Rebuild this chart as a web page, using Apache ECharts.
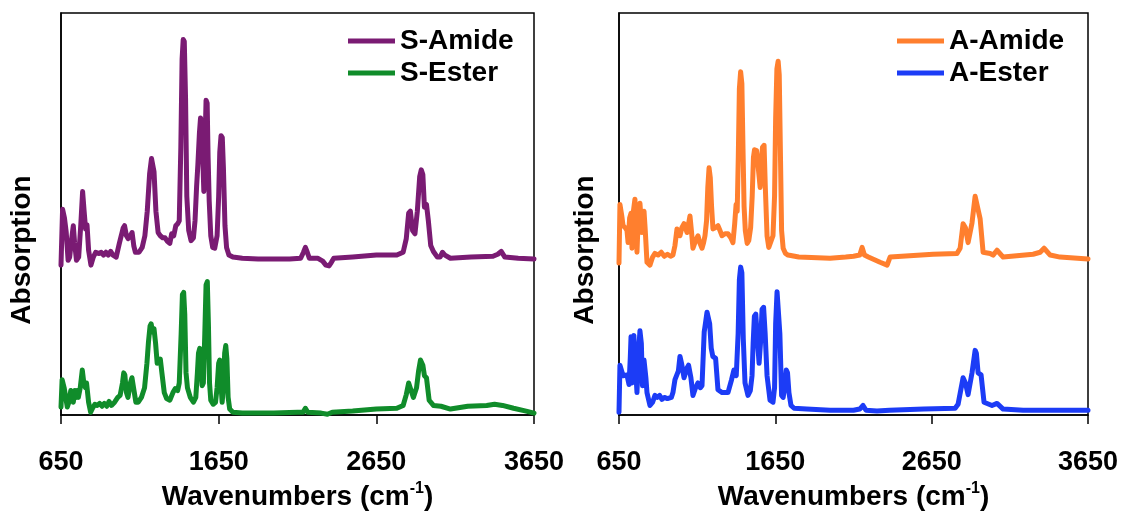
<!DOCTYPE html>
<html><head><meta charset="utf-8">
<script src="https://cdn.jsdelivr.net/npm/echarts@6/dist/echarts.min.js"></script>
<style>html,body{margin:0;padding:0;background:#fff}#c{width:1122px;height:516px}</style>
</head><body><div id="c"></div><script>
const xTicks = [650, 1650, 2650, 3650];
const seriesNames = ['S-Amide', 'S-Ester', 'A-Amide', 'A-Ester'];

const sAmide = [[650,.373],[660,.512],[672,.49],[683,.455],[695,.385],[705,.393],[718,.44],[728,.471],[736,.43],[748,.385],[762,.393],[775,.47],[787,.556],[796,.51],[806,.463],[815,.473],[825,.41],[840,.373],[855,.393],[870,.405],[890,.402],[905,.405],[920,.398],[935,.405],[950,.398],[965,.407],[980,.398],[1000,.393],[1020,.427],[1032,.429],[1045,.466],[1053,.471],[1065,.446],[1076,.439],[1090,.446],[1101,.454],[1112,.42],[1122,.405],[1145,.405],[1165,.417],[1182,.446],[1197,.507],[1212,.6],[1224,.638],[1232,.641],[1240,.605],[1252,.507],[1266,.454],[1280,.446],[1295,.441],[1310,.441],[1325,.432],[1340,.427],[1352,.451],[1365,.446],[1378,.471],[1390,.476],[1400,.483],[1410,.666],[1418,.885],[1425,.934],[1432,.929],[1440,.788],[1448,.544],[1460,.459],[1475,.434],[1490,.441],[1500,.483],[1510,.568],[1518,.622],[1528,.702],[1535,.739],[1543,.727],[1550,.629],[1556,.556],[1563,.666],[1570,.783],[1577,.776],[1583,.641],[1590,.532],[1600,.446],[1612,.417],[1625,.415],[1640,.446],[1650,.544],[1657,.654],[1665,.695],[1673,.69],[1680,.617],[1690,.471],[1700,.417],[1715,.398],[1740,.393],[1800,.39],[1900,.388],[2000,.388],[2100,.388],[2170,.39],[2188,.405],[2200,.417],[2212,.405],[2225,.39],[2280,.39],[2310,.383],[2330,.373],[2350,.371],[2365,.38],[2380,.39],[2500,.393],[2650,.398],[2780,.398],[2820,.405],[2840,.439],[2855,.502],[2866,.507],[2880,.459],[2895,.451],[2910,.507],[2925,.593],[2935,.61],[2945,.598],[2955,.517],[2968,.524],[2980,.483],[2995,.422],[3012,.407],[3037,.393],[3055,.393],[3069,.405],[3085,.398],[3120,.39],[3250,.393],[3390,.395],[3420,.4],[3442,.407],[3465,.393],[3550,.39],[3650,.388]];

const sEster = [[650,.02],[657,.088],[670,.068],[690,.02],[700,.032],[712,.061],[722,.056],[728,.032],[738,.061],[745,.044],[752,.061],[760,.044],[772,.068],[785,.112],[795,.08],[805,.068],[812,.08],[825,.032],[838,.007],[850,.017],[865,.027],[880,.024],[895,.029],[910,.022],[925,.029],[940,.022],[955,.034],[970,.024],[990,.032],[1010,.044],[1025,.049],[1040,.08],[1048,.105],[1055,.1],[1065,.056],[1075,.044],[1090,.08],[1100,.093],[1110,.068],[1125,.032],[1140,.032],[1160,.044],[1180,.068],[1195,.129],[1205,.183],[1215,.222],[1222,.227],[1230,.207],[1240,.215],[1250,.178],[1260,.129],[1272,.134],[1280,.139],[1290,.105],[1305,.056],[1320,.041],[1340,.037],[1360,.056],[1375,.066],[1390,.061],[1400,.08],[1412,.202],[1420,.3],[1428,.305],[1435,.251],[1443,.105],[1452,.068],[1470,.044],[1490,.032],[1505,.044],[1515,.105],[1522,.154],[1530,.166],[1538,.129],[1545,.073],[1553,.08],[1562,.202],[1570,.324],[1578,.332],[1585,.227],[1592,.08],[1600,.037],[1615,.027],[1630,.032],[1640,.068],[1650,.129],[1657,.137],[1664,.08],[1672,.032],[1680,.068],[1688,.154],[1695,.173],[1702,.141],[1710,.044],[1720,.015],[1740,.007],[1800,.005],[2000,.005],[2150,.007],[2185,.007],[2200,.017],[2215,.007],[2300,.005],[2340,.002],[2370,.007],[2500,.01],[2650,.015],[2780,.017],[2820,.024],[2840,.051],[2855,.08],[2866,.078],[2885,.044],[2905,.068],[2918,.11],[2930,.137],[2945,.124],[2955,.098],[2968,.093],[2985,.037],[3012,.024],[3060,.022],[3120,.015],[3230,.022],[3350,.024],[3400,.027],[3450,.024],[3520,.017],[3600,.01],[3650,.005]];

const aAmide = [[650,.378],[656,.524],[668,.495],[676,.471],[690,.466],[701,.459],[708,.429],[718,.49],[727,.502],[733,.415],[742,.507],[752,.537],[760,.471],[765,.405],[775,.507],[784,.527],[797,.454],[803,.49],[810,.507],[818,.459],[829,.38],[848,.373],[865,.393],[880,.402],[900,.398],[920,.405],[940,.395],[960,.4],[980,.395],[995,.398],[1008,.422],[1021,.463],[1030,.454],[1040,.446],[1052,.466],[1066,.476],[1075,.466],[1085,.454],[1095,.476],[1104,.495],[1113,.459],[1123,.415],[1140,.434],[1155,.446],[1168,.427],[1181,.415],[1190,.427],[1200,.446],[1210,.483],[1218,.566],[1226,.615],[1234,.59],[1242,.52],[1251,.463],[1265,.466],[1283,.471],[1296,.459],[1309,.446],[1328,.451],[1347,.451],[1365,.441],[1379,.429],[1390,.476],[1399,.524],[1406,.507],[1413,.641],[1420,.812],[1428,.854],[1436,.824],[1443,.666],[1450,.52],[1458,.459],[1470,.427],[1480,.434],[1492,.466],[1502,.544],[1510,.641],[1517,.66],[1530,.658],[1540,.654],[1547,.59],[1553,.566],[1560,.629],[1568,.666],[1578,.671],[1586,.566],[1597,.446],[1608,.417],[1620,.415],[1635,.446],[1645,.544],[1652,.739],[1660,.861],[1668,.88],[1675,.846],[1682,.666],[1690,.459],[1700,.415],[1715,.402],[1731,.398],[1800,.393],[2000,.39],[2100,.393],[2150,.395],[2190,.398],[2205,.417],[2220,.398],[2245,.393],[2320,.38],[2365,.373],[2384,.393],[2659,.4],[2812,.402],[2832,.415],[2851,.476],[2866,.466],[2883,.429],[2908,.478],[2928,.544],[2938,.527],[2960,.488],[2979,.405],[3024,.402],[3043,.398],[3068,.41],[3107,.393],[3299,.4],[3344,.405],[3369,.415],[3408,.398],[3471,.393],[3650,.388]];

const aEster = [[650,.007],[656,.124],[676,.098],[701,.1],[714,.076],[722,.141],[727,.195],[733,.08],[745,.198],[752,.198],[765,.056],[775,.154],[784,.21],[793,.178],[800,.073],[810,.137],[822,.093],[829,.056],[848,.024],[865,.032],[880,.049],[895,.044],[910,.049],[925,.039],[940,.044],[960,.041],[985,.044],[995,.056],[1008,.088],[1030,.11],[1040,.146],[1050,.129],[1066,.093],[1085,.117],[1095,.124],[1110,.093],[1123,.049],[1140,.068],[1155,.08],[1170,.068],[1181,.073],[1195,.207],[1200,.22],[1213,.256],[1222,.259],[1230,.227],[1240,.166],[1250,.146],[1268,.141],[1283,.063],[1310,.056],[1347,.056],[1370,.088],[1385,.112],[1400,.098],[1412,.202],[1420,.337],[1428,.368],[1436,.354],[1445,.19],[1456,.08],[1475,.049],[1490,.061],[1501,.098],[1508,.178],[1516,.246],[1525,.251],[1535,.19],[1546,.129],[1557,.19],[1565,.263],[1575,.268],[1585,.202],[1597,.098],[1616,.037],[1635,.032],[1645,.068],[1652,.227],[1661,.307],[1670,.307],[1679,.202],[1690,.049],[1700,.044],[1712,.076],[1720,.112],[1728,.105],[1737,.056],[1750,.024],[1770,.017],[1850,.015],[2000,.012],[2150,.012],[2190,.015],[2211,.024],[2230,.012],[2300,.01],[2380,.012],[2600,.015],[2800,.017],[2819,.027],[2851,.093],[2866,.08],[2883,.051],[2908,.105],[2928,.161],[2936,.154],[2947,.105],[2966,.1],[2985,.032],[3036,.024],[3068,.029],[3107,.015],[3235,.012],[3650,.012]];

const colors = ['#7A1B73', '#108C2A', '#FF7F2E', '#1C3CF6'];
const FONT = '"Liberation Sans", Arial, Helvetica, sans-serif';

function xAx(gi) {
  return {
    gridIndex: gi, type: 'value',
    min: xTicks[0], max: xTicks[xTicks.length - 1], interval: xTicks[1] - xTicks[0],
    axisLine: { show: true, onZero: false, lineStyle: { color: '#000', width: 1.5 } },
    axisTick: { show: true, inside: false, length: 9, lineStyle: { color: '#000', width: 1.5 } },
    axisLabel: { margin: 34, color: '#000', fontSize: 27, fontWeight: 'bold', fontFamily: FONT, showMinLabel: true, showMaxLabel: true,
      formatter: (v) => String(v) },
    splitLine: { show: false },
    name: '{a|Wavenumbers (cm}{s|-1}{a|)}', nameLocation: 'middle', nameGap: 61,
    nameTextStyle: { rich: {
      a: { fontSize: 28, fontWeight: 'bold', fontFamily: FONT, color: '#000', lineHeight: 32 },
      s: { fontSize: 16, fontWeight: 'bold', fontFamily: FONT, color: '#000', lineHeight: 16, verticalAlign: 'top' }
    } }
  };
}
function yAx(gi) {
  return { gridIndex: gi, type: 'value', min: 0, max: 1,
    axisLine: { show: true, lineStyle: { color: '#000', width: 1.5 } },
    axisTick: { show: false }, axisLabel: { show: false }, splitLine: { show: false } };
}
function ser(name, data, gi, color) {
  return { name, type: 'line', xAxisIndex: gi, yAxisIndex: gi, data, showSymbol: false, symbol: 'none',
    lineStyle: { color, width: 5, join: 'round', cap: 'round' }, itemStyle: { color }, animation: false, clip: true };
}
function legend(left, names) {
  return { left, top: 22, orient: 'vertical', data: names, icon: 'rect', itemWidth: 47, itemHeight: 5, itemGap: 4,
    textStyle: { fontSize: 28, fontWeight: 'bold', fontFamily: FONT, color: '#000', lineHeight: 28 }, selectedMode: false };
}
const absText = (x) => ({ type: 'text', x, y: 250, rotation: Math.PI / 2,
  style: { text: 'Absorption', fill: '#000', font: 'bold 28px ' + FONT, align: 'center', verticalAlign: 'middle', textAlign: 'center', textVerticalAlign: 'middle' } });

const chart = echarts.init(document.getElementById('c'), null, { renderer: 'canvas' });
chart.setOption({
  animation: false,
  backgroundColor: '#fff',
  grid: [
    { left: 61, top: 13, width: 473, height: 410, show: true, borderColor: '#000', borderWidth: 1.5, containLabel: false },
    { left: 619, top: 13, width: 469, height: 410, show: true, borderColor: '#000', borderWidth: 1.5, containLabel: false }
  ],
  xAxis: [xAx(0), xAx(1)],
  yAxis: [yAx(0), yAx(1)],
  legend: [legend(343, [seriesNames[0], seriesNames[1]]), legend(892, [seriesNames[2], seriesNames[3]])],
  series: [
    ser(seriesNames[0], sAmide, 0, colors[0]),
    ser(seriesNames[1], sEster, 0, colors[1]),
    ser(seriesNames[2], aAmide, 1, colors[2]),
    ser(seriesNames[3], aEster, 1, colors[3])
  ],
  graphic: [absText(22), absText(585)]
});
</script></body></html>
